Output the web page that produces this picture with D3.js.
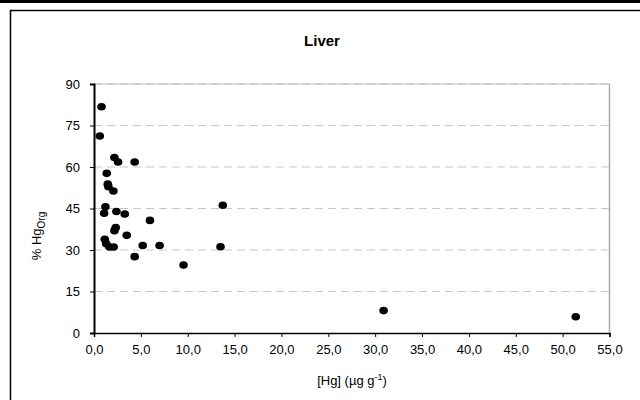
<!DOCTYPE html>
<html><head><meta charset="utf-8">
<script src="https://cdn.jsdelivr.net/npm/d3@7"></script>
<style>body{margin:0;background:#fff}svg{display:block;font-family:"Liberation Sans",Arial,sans-serif}</style>
</head><body>
<svg id="c" width="640" height="400"></svg>
<script>
const hgX = [0.8,0.62,2.18,2.57,4.34,1.36,1.47,1.54,2.07,1.22,1.08,2.39,3.28,5.97,2.32,2.18,3.49,1.15,1.3,1.65,2.1,5.2,7.0,4.34,9.55,13.5,13.74,30.9,51.4];
const orgY = [81.8,71.2,63.4,61.8,61.8,57.7,53.8,52.9,51.3,45.6,43.3,43.9,43.0,40.7,38.1,37.0,35.3,33.9,32.3,31.1,31.1,31.6,31.6,27.6,24.6,31.2,46.2,8.1,5.9];
const xTicks = [0,5,10,15,20,25,30,35,40,45,50,55];
const yTicks = [0,15,30,45,60,75,90];

const svg = d3.select("#c");
// outer frame
svg.append("rect").attr("x",0).attr("y",0).attr("width",640).attr("height",3).attr("fill","#000");
svg.append("path").attr("d","M10.5,400V10.5H640").attr("fill","none").attr("stroke","#000").attr("stroke-width",1.5);

const L=94, R=609.5, T=84, B=333;
const x = d3.scaleLinear().domain([0,55]).range([L,R]);
const y = d3.scaleLinear().domain([0,90]).range([B,T]);

// grid
svg.append("g").selectAll("line").data(yTicks.filter(d=>d>0)).join("line")
  .attr("x1",L).attr("x2",R).attr("y1",d=>y(d)).attr("y2",d=>y(d))
  .attr("stroke","#c8c8c8").attr("stroke-width",1.2).attr("stroke-dasharray","8,5");
// plot border right
svg.append("line").attr("x1",R).attr("x2",R).attr("y1",T).attr("y2",B).attr("stroke","#aaa").attr("stroke-width",1.5);
svg.append("line").attr("x1",L).attr("x2",R).attr("y1",T).attr("y2",T).attr("stroke","#bbb").attr("stroke-width",1.2);

// axes
const xa = svg.append("g").attr("transform",`translate(0,${B})`)
  .call(d3.axisBottom(x).tickValues(xTicks).tickSize(4).tickPadding(8).tickFormat(d=>d3.format(".1f")(d).replace(".",",")));
xa.select(".domain").attr("stroke","#000").attr("stroke-width",1.5);
xa.selectAll("text").attr("font-size",13).attr("fill","#000").attr("font-family","Liberation Sans, Arial, sans-serif");
const ya = svg.append("g").attr("transform",`translate(${L},0)`)
  .call(d3.axisLeft(y).tickValues(yTicks).tickSize(4).tickPadding(10).tickFormat(d3.format("d")));
ya.select(".domain").attr("stroke","#000").attr("stroke-width",2);
ya.selectAll("text").attr("font-size",13).attr("fill","#000").attr("font-family","Liberation Sans, Arial, sans-serif");

// points
svg.append("g").selectAll("ellipse").data(hgX.map((v,i)=>[v,orgY[i]])).join("ellipse")
  .attr("cx",d=>x(d[0])).attr("cy",d=>y(d[1])).attr("rx",4.3).attr("ry",3.8).attr("fill","#000");

// title
svg.append("text").attr("x",322).attr("y",46).attr("text-anchor","middle")
  .attr("font-size",15).attr("font-weight","bold").text("Liver");
// x title
const xt = svg.append("text").attr("x",352).attr("y",385).attr("text-anchor","middle").attr("font-size",13);
xt.append("tspan").text("[Hg] (µg g");
xt.append("tspan").attr("dy",-5).attr("font-size",9).text("-1");
xt.append("tspan").attr("dy",5).text(")");
// y title
const yt = svg.append("text").attr("transform","translate(41,236) rotate(-90)").attr("text-anchor","middle").attr("font-size",13);
yt.append("tspan").text("% Hg");
yt.append("tspan").attr("dy",4).attr("font-size",10).text("Org");
</script>
</body></html>
